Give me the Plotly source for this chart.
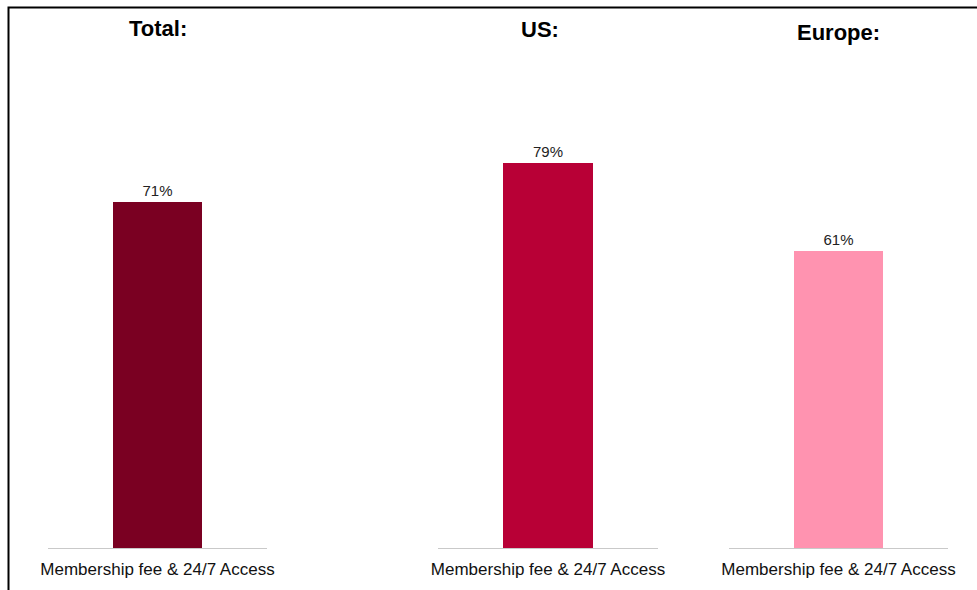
import plotly.graph_objects as go

# Share of members citing each driver, by region
panels = ["Total:", "US:", "Europe:"]
category = ["Membership fee & 24/7 Access"]
values = [71, 79, 61]
colors = ["#7a0022", "#b80036", "#ff93b0"]

W, H = 977, 590

# Horizontal placement of each panel (pixels) and its title
x_spans = [(48, 267), (438, 658), (729, 948)]
title_x = [158, 540, 838]
title_y = [28, 30, 32]
base_y = 548          # pixel row of the category axis
top_y = 61            # pixel row that corresponds to 100%

FONT = "Liberation Sans, Arial"

fig = go.Figure()

for i, (name, val, col) in enumerate(zip(panels, values, colors)):
    xa = "x" if i == 0 else f"x{i + 1}"
    ya = "y" if i == 0 else f"y{i + 1}"
    fig.add_trace(go.Bar(
        x=[0], y=[val],
        width=0.405,
        marker=dict(color=col, line=dict(width=0)),
        text=[f"{val}%"], textposition="outside",
        textfont=dict(family=FONT, size=15, color="#222222"),
        cliponaxis=False,
        xaxis=xa, yaxis=ya, showlegend=False, hoverinfo="skip",
    ))
    x0, x1 = x_spans[i]
    fig.layout[f"xaxis{'' if i == 0 else i + 1}"] = dict(
        domain=[x0 / W, x1 / W], range=[-0.5, 0.5],
        tickmode="array", tickvals=[0], ticktext=category,
        showline=True, linecolor="#c9c9c9", linewidth=1,
        showgrid=False, zeroline=False,
        ticks="outside", ticklen=6, tickcolor="rgba(0,0,0,0)",
        tickfont=dict(family=FONT, size=17, color="#111111"),
        anchor=ya, automargin=False,
        fixedrange=True,
    )
    fig.layout[f"yaxis{'' if i == 0 else i + 1}"] = dict(
        domain=[(H - base_y) / H, (H - top_y) / H], range=[0, 100],
        visible=False, showgrid=False, zeroline=False,
        anchor=xa, automargin=False, fixedrange=True,
    )
    fig.add_annotation(
        text=f"<b>{name}</b>", xref="paper", yref="paper",
        x=title_x[i] / W, y=(H - title_y[i]) / H,
        xanchor="center", yanchor="middle", showarrow=False,
        font=dict(family=FONT, size=22, color="#000000"),
    )

# Outer frame
fig.add_shape(type="rect", xref="paper", yref="paper",
              x0=8.5 / W, x1=1.2, y0=-0.2, y1=(H - 7.5) / H,
              line=dict(color="#000000", width=2), fillcolor="rgba(0,0,0,0)")

fig.update_layout(
    width=W, height=H,
    margin=dict(l=0, r=0, t=0, b=0, autoexpand=False),
    paper_bgcolor="#ffffff", plot_bgcolor="#ffffff",
    bargap=0,
)

fig.write_html("out.html", config={"displayModeBar": False})
